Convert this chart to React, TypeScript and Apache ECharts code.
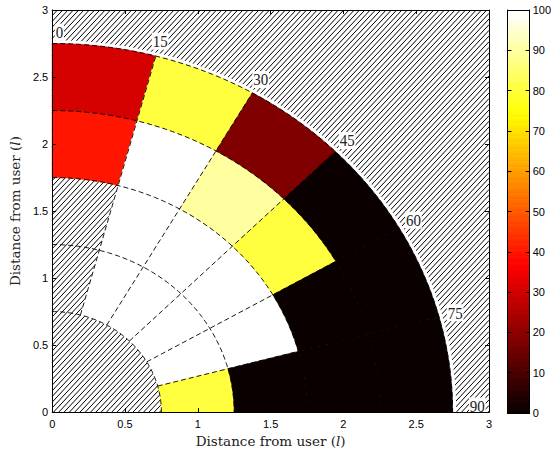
import React, { useEffect, useRef } from "react";
import * as echarts from "echarts";

// ---------- data ----------
const radialEdges = [0.75, 1.25, 1.75, 2.25, 2.75];
const angleEdges = [0, 15, 30, 45, 60, 75, 90]; // degrees from the vertical axis
// cell values per ring (inner -> outer), per 15° sector (0 -> 90); null = no data (hatched)
const ring1 = [null, 100, 100, 100, 100, 80];
const ring2 = [null, 100, 100, 100, 100, 0];
const ring3 = [40, 100, 90, 80, 0, 0];
const ring4 = [30, 80, 18, 0, 0, 0];
const rings = [ring1, ring2, ring3, ring4];
const angleLabels = [0, 15, 30, 45, 60, 75, 90];
const colorbarRange = [0, 100];
const cmapLevels = 64;

// MATLAB "hot" colormap, 64 levels
function hotColor(i: number): string {
  const n1 = 24, n2 = 24, n3 = 16;
  const r = i < n1 ? (i + 1) / n1 : 1;
  const g = i < n1 ? 0 : i < n1 + n2 ? (i - n1 + 1) / n2 : 1;
  const b = i < n1 + n2 ? 0 : (i - n1 - n2 + 1) / n3;
  const c = (v: number) => Math.round(Math.min(1, v) * 255);
  return `rgb(${c(r)},${c(g)},${c(b)})`;
}
function valueColor(v: number): string {
  const idx = Math.min(cmapLevels - 1, Math.floor((v / 100) * cmapLevels));
  return hotColor(idx);
}

const deg = Math.PI / 180;
const polar = (r: number, a: number) => [r * Math.sin(a * deg), r * Math.cos(a * deg)];

const cellData: any[] = [];
rings.forEach((ring, ri) =>
  ring.forEach((v, si) => {
    if (v !== null) cellData.push([ri, si, v]);
  })
);

export default function App() {
  const ref = useRef<HTMLDivElement>(null);
  useEffect(() => {
    if (!ref.current) return;
    const chart = echarts.init(ref.current, undefined, { renderer: "svg" });

    const arcPoints = (api: any, r: number, a0: number, a1: number, n = 40) => {
      const pts: number[][] = [];
      for (let k = 0; k <= n; k++) {
        const a = a0 + ((a1 - a0) * k) / n;
        pts.push(api.coord(polar(r, a)));
      }
      return pts;
    };

    const sectorPolygon = (api: any, r0: number, r1: number, a0: number, a1: number) => {
      const outer = arcPoints(api, r1, a0, a1);
      const inner = arcPoints(api, r0, a1, a0);
      return outer.concat(inner);
    };

    const axisCommon = {
      type: "value",
      min: 0,
      max: 3,
      interval: 0.5,
      splitLine: { show: false },
      axisLine: { show: true, onZero: false, lineStyle: { color: "#000", width: 1 } },
      axisTick: { show: true, inside: true, length: 4, lineStyle: { color: "#000" } },
      z: 10,
    };
    const nameStyle = {
      fontFamily: "DejaVu Serif",
      fontSize: 13.5,
      color: "#222",
      rich: { i: { fontFamily: "DejaVu Serif", fontStyle: "italic", fontSize: 13.5, color: "#222" } },
    };
    const labelStyle = { fontFamily: "Liberation Sans", fontSize: 11, color: "#000" };

    // gradient stops for the discrete colormap (top = 100 -> bottom = 0)
    const stops: any[] = [];
    for (let i = 0; i < cmapLevels; i++) {
      const top = 1 - (i + 1) / cmapLevels;
      const bot = 1 - i / cmapLevels;
      const col = hotColor(i);
      stops.push({ offset: top, color: col }, { offset: bot, color: col });
    }
    stops.sort((a, b) => a.offset - b.offset);

    const option: any = {
      animation: false,
      backgroundColor: "#fff",
      grid: [
        { left: 48, top: 10, width: 441, height: 402.5, containLabel: false },
        { left: 507.5, top: 10, width: 23, height: 403, containLabel: false },
      ],
      xAxis: [
        {
          ...axisCommon,
          gridIndex: 0,
          position: "bottom",
          axisLabel: { ...labelStyle, margin: 6, formatter: (v: number) => String(v) },
          name: "Distance from user ({i|l})",
          nameLocation: "middle",
          nameGap: 19,
          nameTextStyle: nameStyle,
        },
        { ...axisCommon, gridIndex: 0, position: "top", axisLabel: { show: false } },
        {
          type: "value", gridIndex: 1, min: 0, max: 1,
          axisLine: { show: true, onZero: false, lineStyle: { color: "#000" } },
          axisTick: { show: false }, axisLabel: { show: false }, splitLine: { show: false },
          position: "bottom", z: 10,
        },
        {
          type: "value", gridIndex: 1, min: 0, max: 1,
          axisLine: { show: true, onZero: false, lineStyle: { color: "#000" } },
          axisTick: { show: false }, axisLabel: { show: false }, splitLine: { show: false },
          position: "top", z: 10,
        },
      ],
      yAxis: [
        {
          ...axisCommon,
          gridIndex: 0,
          position: "left",
          axisLabel: { ...labelStyle, margin: 4, formatter: (v: number) => String(v) },
          name: "Distance from user ({i|l})",
          nameLocation: "middle",
          nameGap: 25,
          nameRotate: 90,
          nameTextStyle: nameStyle,
        },
        { ...axisCommon, gridIndex: 0, position: "right", axisLabel: { show: false } },
        {
          type: "value", gridIndex: 1, min: 0, max: 100, interval: 10, position: "right",
          axisLine: { show: true, onZero: false, lineStyle: { color: "#000" } },
          axisTick: { show: true, inside: true, length: 4, lineStyle: { color: "#000" } },
          axisLabel: { ...labelStyle, margin: 3 },
          splitLine: { show: false }, z: 10,
        },
        {
          type: "value", gridIndex: 1, min: 0, max: 100, interval: 10, position: "left",
          axisLine: { show: true, onZero: false, lineStyle: { color: "#000" } },
          axisTick: { show: true, inside: true, length: 4, lineStyle: { color: "#000" } },
          axisLabel: { show: false },
          splitLine: { show: false }, z: 10,
        },
      ],
      series: [
        // hatch background
        {
          type: "custom",
          xAxisIndex: 0,
          yAxisIndex: 0,
          z: 1,
          silent: true,
          data: [[0, 0]],
          renderItem: (params: any, api: any) => {
            const cs = params.coordSys;
            const L = cs.x, T = cs.y, R = cs.x + cs.width, B = cs.y + cs.height;
            const phi = 47 * deg;
            const s = Math.sin(phi), c = Math.cos(phi);
            const step = 5.3 * s;
            const cMin = L * s + T * c, cMax = R * s + B * c;
            const children: any[] = [];
            for (let k = cMin; k <= cMax; k += step) {
              const pts: number[][] = [];
              const yl = (k - L * s) / c; if (yl >= T && yl <= B) pts.push([L, yl]);
              const yr = (k - R * s) / c; if (yr >= T && yr <= B) pts.push([R, yr]);
              const xt = (k - T * c) / s; if (xt >= L && xt <= R) pts.push([xt, T]);
              const xb = (k - B * c) / s; if (xb >= L && xb <= R) pts.push([xb, B]);
              if (pts.length >= 2) {
                children.push({
                  type: "line",
                  shape: { x1: pts[0][0], y1: pts[0][1], x2: pts[1][0], y2: pts[1][1] },
                  style: { stroke: "#000", lineWidth: 1 },
                });
              }
            }
            return { type: "group", children };
          },
        },
        // white band just outside the outer arc
        {
          type: "custom",
          xAxisIndex: 0,
          yAxisIndex: 0,
          z: 2,
          silent: true,
          data: [[0, 0]],
          renderItem: (params: any, api: any) => ({
            type: "polygon",
            shape: { points: sectorPolygon(api, 2.7, 2.775, 0, 90) },
            style: { fill: "#fff", stroke: null },
          }),
        },
        // heatmap cells
        {
          type: "custom",
          xAxisIndex: 0,
          yAxisIndex: 0,
          z: 3,
          silent: true,
          data: cellData,
          renderItem: (params: any, api: any) => {
            const ri = api.value(0), si = api.value(1), v = api.value(2);
            const col = valueColor(v);
            return {
              type: "polygon",
              shape: {
                points: sectorPolygon(api, radialEdges[ri], radialEdges[ri + 1], angleEdges[si], angleEdges[si + 1]),
              },
              style: { fill: col, stroke: col, lineWidth: 0.6 },
            };
          },
        },
        // dashed polar grid
        {
          type: "custom",
          xAxisIndex: 0,
          yAxisIndex: 0,
          z: 4,
          silent: true,
          data: [[0, 0]],
          renderItem: (params: any, api: any) => {
            const children: any[] = [];
            const dash = { stroke: "#000", lineWidth: 0.9, lineDash: [5, 3], fill: null };
            radialEdges.forEach((r) => {
              children.push({ type: "polyline", shape: { points: arcPoints(api, r, 0, 90, 80) }, style: dash });
            });
            angleEdges.slice(1, -1).forEach((a) => {
              const p0 = api.coord(polar(radialEdges[0], a));
              const p1 = api.coord(polar(radialEdges[radialEdges.length - 1], a));
              children.push({ type: "line", shape: { x1: p0[0], y1: p0[1], x2: p1[0], y2: p1[1] }, style: dash });
            });
            return { type: "group", children };
          },
        },
        // angle labels
        {
          type: "custom",
          xAxisIndex: 0,
          yAxisIndex: 0,
          z: 5,
          silent: true,
          data: angleLabels.map((a) => [a]),
          renderItem: (params: any, api: any) => {
            const a = api.value(0);
            const aa = Math.min(89.1, Math.max(1.0, a));
            const r = a === 90 ? 2.92 : a === 0 ? 2.835 : 2.865;
            const p = api.coord(polar(r, aa));
            return {
              type: "text",
              x: p[0],
              y: p[1],
              scaleX: 0.88,
              style: {
                text: String(a),
                fontFamily: "Liberation Serif",
                fontSize: 17,
                fill: "#222",
                align: "center",
                verticalAlign: "middle",
                backgroundColor: "#fff",
                padding: [0, 1, 0, 1],
              },
            };
          },
        },
        // colorbar
        {
          type: "custom",
          xAxisIndex: 2,
          yAxisIndex: 2,
          z: 3,
          silent: true,
          data: [colorbarRange],
          renderItem: (params: any, api: any) => {
            const p0 = api.coord([0, api.value(0)]);
            const p1 = api.coord([1, api.value(1)]);
            return {
              type: "rect",
              shape: { x: p0[0], y: p1[1], width: p1[0] - p0[0], height: p0[1] - p1[1] },
              style: {
                fill: new echarts.graphic.LinearGradient(0, 0, 0, 1, stops),
                stroke: null,
              },
            };
          },
        },
      ],
    };
    chart.setOption(option);
    return () => chart.dispose();
  }, []);
  return <div ref={ref} style={{ width: 554, height: 453, position: "absolute", left: 0, top: 0 }} />;
}
